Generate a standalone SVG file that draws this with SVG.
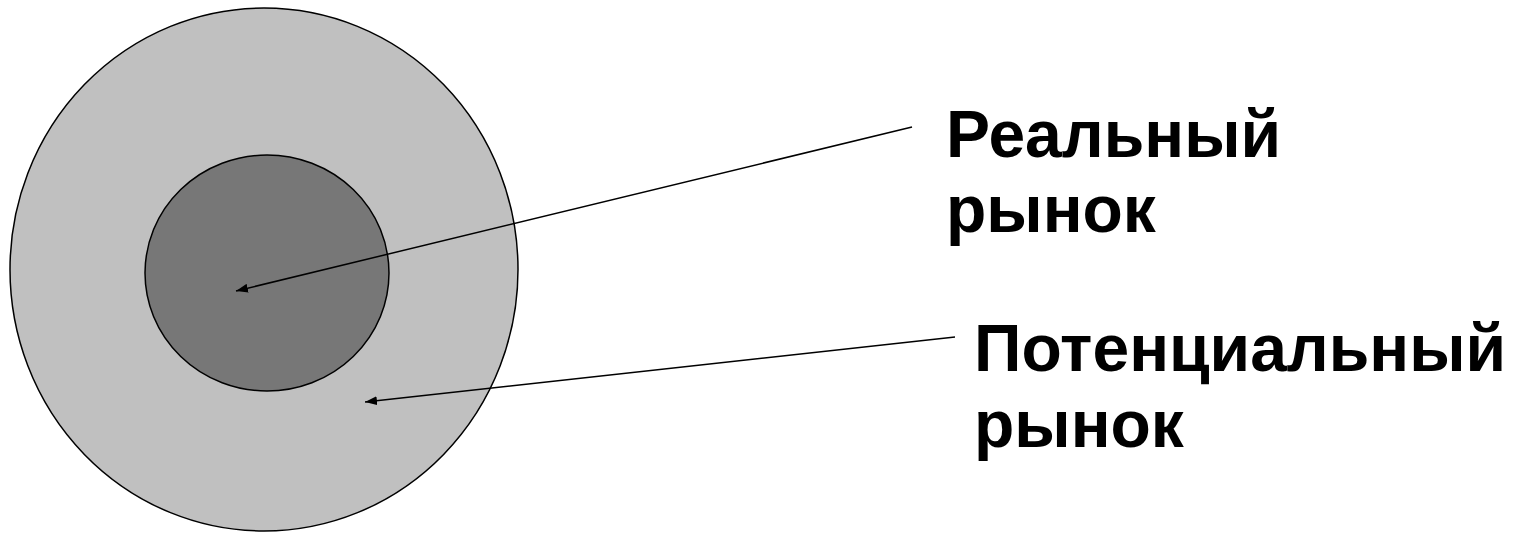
<svg xmlns="http://www.w3.org/2000/svg" width="1519" height="533" viewBox="0 0 1519 533">
<style>
.lbl{font-family:"Liberation Sans",Arial,sans-serif;font-weight:bold;font-size:66px;fill:#000}
.ring{stroke:#000;stroke-width:1.5}
.conn{stroke:#000;stroke-width:1.5;fill:none}
</style>
<defs>
<marker id="ah" markerWidth="12" markerHeight="9" refX="12" refY="4.5" orient="auto" markerUnits="userSpaceOnUse">
<path d="M0,0 L12,4.5 L0,9 z" fill="#000"/>
</marker>
</defs>
<rect width="1519" height="533" fill="#fff"/>
<g id="potential-market">
<ellipse class="ring" cx="264" cy="269.5" rx="254" ry="261.5" fill="#c0c0c0"/>
</g>
<g id="real-market">
<ellipse class="ring" cx="267" cy="273" rx="122" ry="118" fill="#777777"/>
</g>
<g id="connectors">
<line class="conn" x1="912" y1="127" x2="236" y2="291" marker-end="url(#ah)"/>
<line class="conn" x1="955" y1="337" x2="365" y2="402" marker-end="url(#ah)"/>
</g>
<g id="label-real">
<text class="lbl" x="946" y="157">Реальный</text>
<text class="lbl" x="946" y="232">рынок</text>
</g>
<g id="label-potential">
<text class="lbl" x="974" y="371">Потенциальный</text>
<text class="lbl" x="974" y="447">рынок</text>
</g>
</svg>
